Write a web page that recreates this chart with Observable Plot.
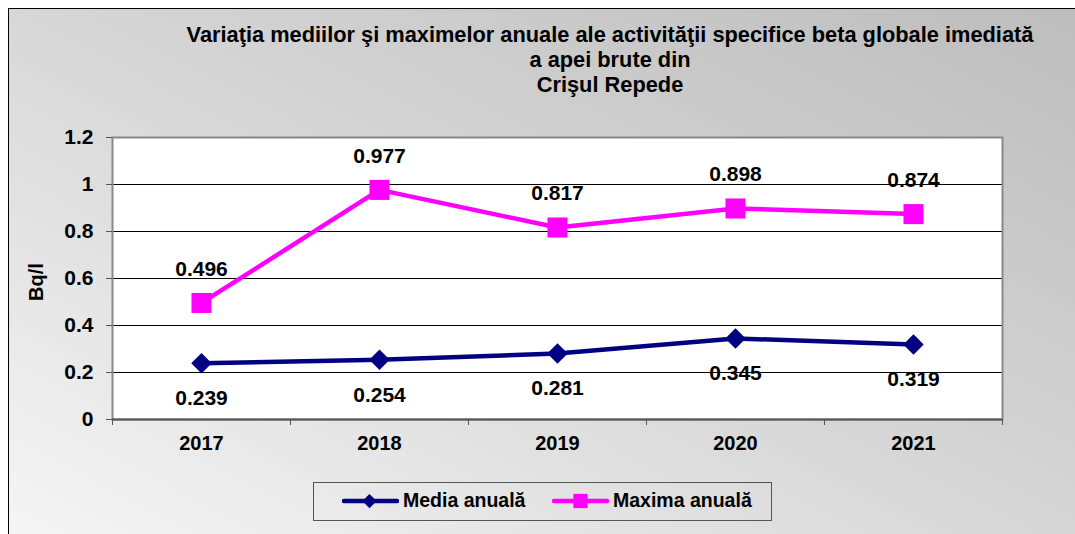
<!DOCTYPE html>
<html>
<head>
<meta charset="utf-8">
<script src="https://cdn.jsdelivr.net/npm/d3@7"></script>
<script src="https://cdn.jsdelivr.net/npm/@observablehq/plot@0.6"></script>
<style>
  html, body { margin: 0; padding: 0; background: #fff; }
  #page { position: relative; width: 1075px; height: 534px; overflow: hidden; font-family: "Liberation Sans", Arial, sans-serif; }
  #bg { position: absolute; left: 8px; top: 8px; width: 1100px; height: 560px;
        border-left: 1px solid #000; border-top: 1px solid #000;
        background: linear-gradient(to bottom left, #bcbcbc 0%, #d4d4d4 45%, #f7f7f7 100%); }
  #title { position: absolute; left: 60px; width: 1100px; margin-left: 0; top: 22px; text-align: center;
           font-weight: bold; font-size: 21.8px; line-height: 25px; color: #000; }
  #plot { position: absolute; left: 0; top: 0; }
  #ylabel { position: absolute; left: 36px; top: 282px; transform: translate(-50%, -50%) rotate(-90deg);
            font-weight: bold; font-size: 20px; white-space: nowrap; }
  #legend { position: absolute; left: 313px; top: 482px; width: 459px; height: 39px; box-sizing: border-box;
            border: 1px solid #555; font-weight: bold; font-size: 19.5px; }
  .item { display: flex; align-items: center; position: absolute; top: 6px; }
  .item svg { margin-right: 4px; }
</style>
</head>
<body>
<div id="page">
  <div id="bg"></div>
  <div id="title"></div>
  <div id="plot"></div>
  <div id="ylabel"></div>
  <div id="legend"></div>
</div>
<script>
const titleLines = ["Variaţia mediilor şi maximelor anuale ale activităţii specifice beta globale imediată", "a apei brute din", "Crişul Repede"];
const years = [2017, 2018, 2019, 2020, 2021];
const media = [0.239, 0.254, 0.281, 0.345, 0.319];
const maxima = [0.496, 0.977, 0.817, 0.898, 0.874];
const seriesNames = ["Media anuală", "Maxima anuală"];
const seriesColors = ["#000080", "#ff00ff"];
const yTicks = [0, 0.2, 0.4, 0.6, 0.8, 1, 1.2];
const yTickLabels = ["0", "0.2", "0.4", "0.6", "0.8", "1", "1.2"];
const yLabel = "Bq/l";

const titleEl = document.getElementById("title");
titleEl.innerHTML = titleLines.join("<br>");
// centre the title block on x = 610
titleEl.style.left = (610 - 550) + "px";
document.getElementById("ylabel").textContent = yLabel;

const mediaData = years.map((y, i) => ({year: y, value: media[i]}));
const maximaData = years.map((y, i) => ({year: y, value: maxima[i]}));
const boundaries = [years[0] - 0.5, ...years.map(y => y + 0.5)];
const fmt = v => v.toFixed(3);
const font = {fontWeight: "bold", fontSize: 21, fill: "#000"};

const chart = Plot.plot({
  width: 1075,
  height: 470,
  marginLeft: 112,
  marginRight: 73,
  marginTop: 137,
  marginBottom: 51,
  style: {background: "transparent", fontFamily: "'Liberation Sans', Arial, sans-serif"},
  x: {type: "linear", domain: [years[0] - 0.5, years[years.length - 1] + 0.5]},
  y: {domain: [0, 1.2]},
  marks: [
    Plot.frame({fill: "white", stroke: "none"}),
    Plot.ruleY(yTicks, {stroke: "#000", strokeWidth: 1}),
    Plot.frame({stroke: "#888", strokeWidth: 2}),
    Plot.ruleY([0], {stroke: "#555", strokeWidth: 2}),
    Plot.axisY({ticks: yTicks, tickSize: 6, tickPadding: 13, tickFormat: d => yTickLabels[yTicks.indexOf(d)], fontWeight: "bold", fontSize: 21, stroke: "#555", label: null, color: "#000"}),
    Plot.axisX({ticks: boundaries, tickSize: 6, tickFormat: () => "", stroke: "#555", label: null}),
    Plot.axisX({ticks: years, tickSize: 0, tickPadding: 16, tickFormat: d => String(d), fontWeight: "bold", fontSize: 20, label: null, color: "#000"}),
    Plot.line(mediaData, {x: "year", y: "value", stroke: seriesColors[0], strokeWidth: 4.5}),
    Plot.line(maximaData, {x: "year", y: "value", stroke: seriesColors[1], strokeWidth: 4.5}),
    Plot.dot(mediaData, {x: "year", y: "value", symbol: "diamond2", r: 9.2, fill: seriesColors[0], stroke: "none"}),
    Plot.dot(maximaData, {x: "year", y: "value", symbol: "square", r: 11.3, fill: seriesColors[1], stroke: "none"}),
    Plot.text(mediaData, {x: "year", y: "value", text: d => fmt(d.value), dy: 35, ...font}),
    Plot.text(maximaData, {x: "year", y: "value", text: d => fmt(d.value), dy: -34, ...font})
  ]
});
document.getElementById("plot").appendChild(chart);

// legend
const legend = document.getElementById("legend");
const markerOf = [
  (s) => `<path d="M27,-1 L34,6 L27,13 L20,6 Z" fill="${s}"/>`,
  (s) => `<rect x="21" y="-1" width="14" height="14" fill="${s}"/>`
];
const lefts = [28, 238];
seriesNames.forEach((name, i) => {
  const item = document.createElement("div");
  item.className = "item";
  item.style.left = lefts[i] + "px";
  item.innerHTML = `<svg width="57" height="20" viewBox="0 -3 56 18"><line x1="2" x2="54" y1="6" y2="6" stroke="${seriesColors[i]}" stroke-width="4.5" stroke-linecap="round"/>${markerOf[i](seriesColors[i])}</svg><span>${name}</span>`;
  legend.appendChild(item);
});
</script>
</body>
</html>
